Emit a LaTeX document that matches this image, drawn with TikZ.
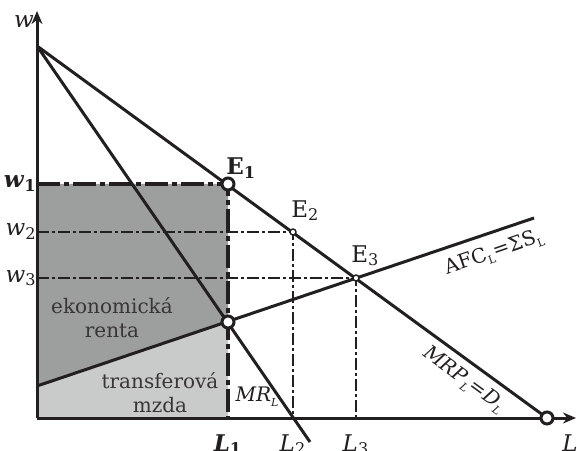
\documentclass[tikz,border=0pt]{standalone}
\usepackage{fontspec}
\setmainfont{DejaVu Serif}
\usetikzlibrary{arrows.meta, positioning, calc}
\definecolor{inkblack}{HTML}{231F20}
\definecolor{rentgray}{HTML}{9D9E9E}
\definecolor{transgray}{HTML}{C9CACA}
\newcommand{\lsub}[1]{\raisebox{-0.45ex}{\fontsize{5.5}{6}\selectfont #1}}

\begin{document}
\begin{tikzpicture}[
    x=0.5pt, y=0.5pt,
    font=\fontsize{10}{12}\selectfont,
    curve/.style={draw=inkblack, line width=1.5pt},
    axisline/.style={draw=inkblack, line width=1.5pt, -{Stealth[length=6.5pt, width=5.5pt]}},
    guide/.style={draw=inkblack, line width=1pt, dash pattern=on 6pt off 1.5pt on 1.5pt off 1.5pt},
    guidebold/.style={draw=inkblack, line width=2.2pt, dash pattern=on 11.5pt off 2pt on 2.5pt off 2pt},
    eqbig/.style={circle, draw=inkblack, fill=white, line width=1.5pt, minimum size=6pt, inner sep=0pt},
    eqsmall/.style={circle, draw=inkblack, fill=white, line width=0.7pt, minimum size=3pt, inner sep=0pt},
    lbl/.style={inner sep=0pt, text=inkblack},
    axlbl/.style={lbl, font=\fontsize{11.5}{12}\selectfont},
]
    \useasboundingbox (0,0) rectangle (577,450);

    % Axes and key points
    \coordinate (O) at (37,32);
    \coordinate (wtop) at (37,439);
    \coordinate (Lend) at (576,32);
    \coordinate (A) at (37,404);
    \coordinate (pE1) at (228,266);
    \coordinate (pE2) at (293,218);
    \coordinate (pE3) at (356,172);
    \coordinate (pF) at (228,128);
    \coordinate (pD) at (547,32);
    \coordinate (S0) at (37,64);
    \coordinate (S1) at (534,232);
    \coordinate (M1) at (310,8);
    \coordinate (w1) at (37,266);
    \coordinate (w2) at (37,218);
    \coordinate (w3) at (37,172);
    \coordinate (L1) at (228,32);
    \coordinate (L2) at (293,32);
    \coordinate (L3) at (356,32);

    % Rent and transfer earnings
    \fill[rentgray] (w1) -- (pE1) -- (pF) -- (S0) -- cycle;
    \fill[transgray] (S0) -- (pF) -- (L1) -- (O) -- cycle;

    % Guide lines
    \draw[guide] (w2) -- (pE2) -- (L2);
    \draw[guide] (w3) -- (pE3) -- (L3);
    \draw[guidebold] (w1) -- (pE1) -- (L1);

    % Curves
    \draw[curve] (A) -- (pD);
    \draw[curve] (A) -- (M1);
    \draw[curve] (S0) -- (S1);

    % Axes
    \draw[axisline] (O) -- (wtop);
    \draw[axisline] (O) -- (Lend);

    % Equilibria
    \node[eqbig] (E1) at (pE1) {};
    \node[eqbig] (F) at (pF) {};
    \node[eqbig] (D) at (pD) {};
    \node[eqsmall] (E2) at (pE2) {};
    \node[eqsmall] (E3) at (pE3) {};

    % Labels
    \node[axlbl, anchor=base] at (24,422) {\itshape w};
    \node[axlbl, anchor=base east] at (37,262) {\textbf{\textit{w}}\textsubscript{\textbf{1}}};
    \node[axlbl, anchor=base east] at (37,214) {\textit{w}\textsubscript{2}};
    \node[axlbl, anchor=base east] at (37,168) {\textit{w}\textsubscript{3}};
    \node[axlbl, anchor=base west] at (226,275) {\textbf{E}\textsubscript{\textbf{1}}};
    \node[axlbl, anchor=base west] at (291,233) {E\textsubscript{2}};
    \node[axlbl, anchor=base west] at (351,188) {E\textsubscript{3}};
    \node[axlbl, below=8pt of L1] {\textbf{\textit{L}}\textsubscript{\textbf{1}}};
    \node[axlbl, below=8pt of L2] {\textit{L}\textsubscript{2}};
    \node[axlbl, below=8pt of L3] {\textit{L}\textsubscript{3}};
    \node[axlbl, below=8pt of Lend, xshift=-3pt] {\textit{L}};
    \node[lbl] at (257,53) {\itshape MR\lsub{L}};
    \node[lbl, rotate=-36] at (464,70) {\itshape MRP\lsub{L}=D\lsub{L}};
    \node[lbl, rotate=19] at (494,197) {AFC\lsub{L}=ΣS\lsub{L}};
    \node[lbl, align=center, text=inkblack!90] at (112,132) {ekonomická\\renta};
    \node[lbl, align=center, text=inkblack!90] at (160,57) {transferová\\mzda};
\end{tikzpicture}
\end{document}
